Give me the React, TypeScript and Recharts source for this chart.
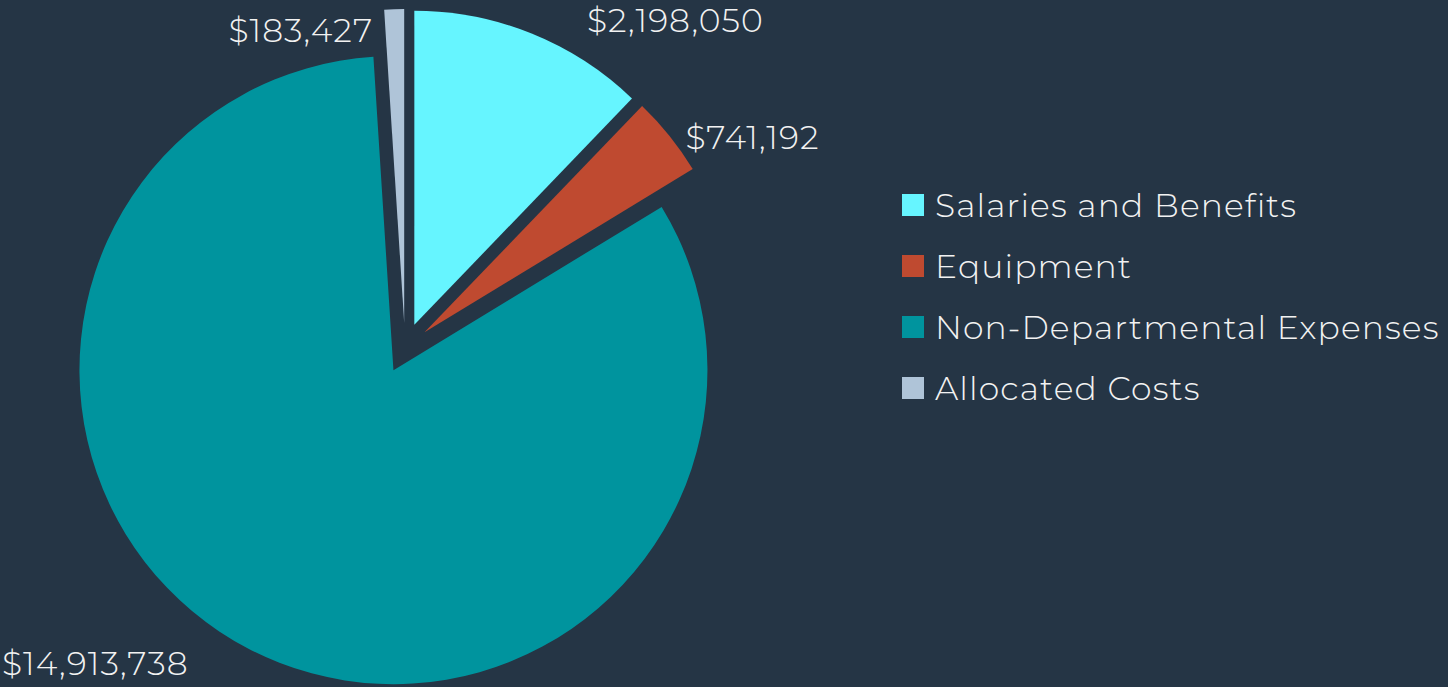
import { Legend, Pie, PieChart, Sector, Cell } from 'recharts'

// Budget breakdown, exploded pie on a dark card.
const categories = [
  'Salaries and Benefits',
  'Equipment',
  'Non-Departmental Expenses',
  'Allocated Costs',
]
const amounts = [2198050, 741192, 14913738, 183427]
const colors = ['#66F5FF', '#BF4A30', '#00949E', '#AFC4D8']

const data = categories.map((name, i) => ({ name, value: amounts[i] }))

const BG = '#253545'
const TEXT = '#F2F2F2'
const FONT = 'Montserrat, Inter, "Open Sans", sans-serif'
const SPACING = 1.1
const EXPLODE = 25
// label placement tweaks relative to each slice: angle delta (deg), radius delta (px)
const labelNudge = [
  { da: -7.6, dr: 36, anchor: 'start' },
  { da: -1.9, dr: 12, anchor: 'start' },
  { da: -7.5, dr: 43, anchor: 'end' },
  { da: 4.2, dr: -19, anchor: 'end' },
]

const RAD = Math.PI / 180
const polar = (cx: number, cy: number, r: number, deg: number) => ({
  x: cx + r * Math.cos(-deg * RAD),
  y: cy + r * Math.sin(-deg * RAD),
})

const fmt = (v: number) => '$' + v.toLocaleString('en-US')

function renderSlice(props: any) {
  const { cx, cy, outerRadius, startAngle, endAngle, midAngle, index, value } = props
  const c = polar(cx, cy, EXPLODE, midAngle)
  const n = labelNudge[index]
  const p = polar(c.x, c.y, outerRadius + n.dr, midAngle + n.da)
  return (
    <g key={`slice-${index}`}>
      <Sector
        cx={c.x}
        cy={c.y}
        innerRadius={0}
        outerRadius={outerRadius}
        startAngle={startAngle}
        endAngle={endAngle}
        fill={colors[index]}
        stroke="none"
      />
      <text
        x={p.x}
        y={p.y}
        textAnchor={n.anchor}
        dominantBaseline="central"
        fill={TEXT}
        fontFamily={FONT}
        fontWeight={300}
        fontSize={33}
        letterSpacing={SPACING}
      >
        {fmt(value)}
      </text>
    </g>
  )
}

function LegendList() {
  return (
    <div
      style={{
        fontFamily: FONT,
        fontWeight: 300,
        fontSize: 33,
        letterSpacing: SPACING,
        color: TEXT,
      }}
    >
      {categories.map((name, i) => (
        <div
          key={name}
          style={{ display: 'flex', alignItems: 'center', height: 61, whiteSpace: 'nowrap' }}
        >
          <span
            style={{
              width: 22,
              height: 22,
              background: colors[i],
              display: 'inline-block',
              marginRight: 11,
              flexShrink: 0,
            }}
          />
          <span>{name}</span>
        </div>
      ))}
    </div>
  )
}

export default function App() {
  return (
    <div style={{ position: 'absolute', left: 0, top: 0, width: 1448, height: 687, background: BG }}>
      <PieChart width={1448} height={687} margin={{ top: 0, right: 0, bottom: 0, left: 0 }}>
        <Pie
          data={data}
          dataKey="value"
          nameKey="name"
          cx={405}
          cy={348}
          outerRadius={314}
          startAngle={90}
          endAngle={-270}
          stroke="none"
          label={renderSlice}
          labelLine={false}
          isAnimationActive={false}
        >
          {data.map((d) => (
            <Cell key={d.name} fill="transparent" />
          ))}
        </Pie>
        <Legend
          layout="vertical"
          content={<LegendList />}
          wrapperStyle={{ left: 902, top: 174, width: 546 }}
        />
      </PieChart>
    </div>
  )
}
